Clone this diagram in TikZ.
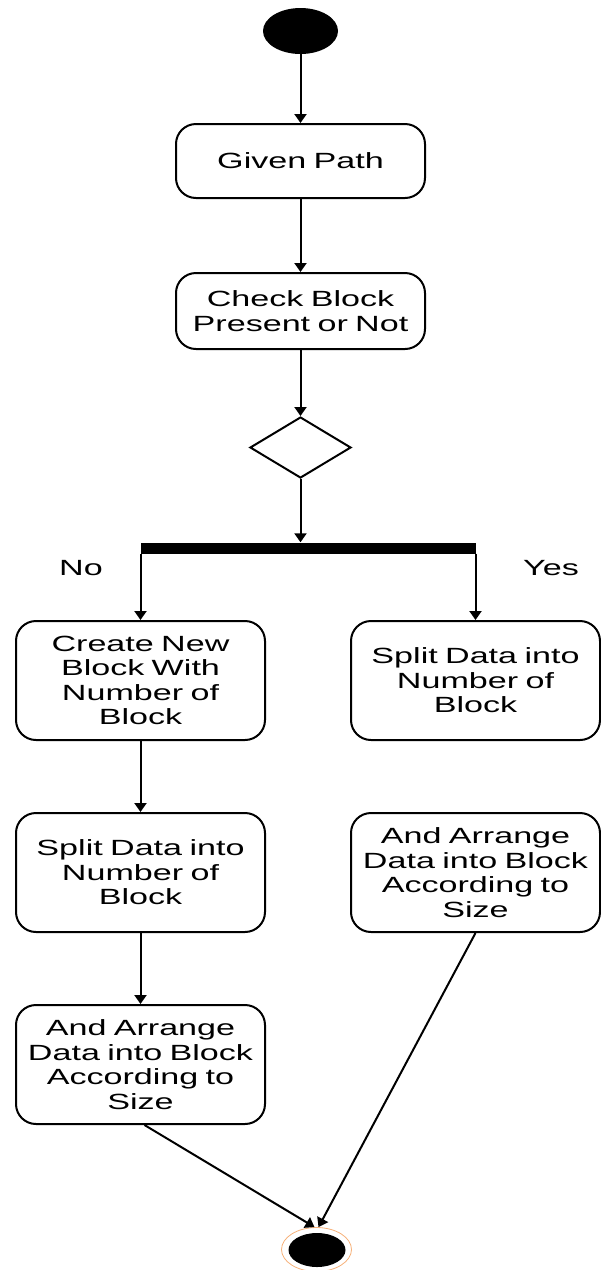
\documentclass[tikz,border=0pt]{standalone}
\usepackage{fontspec}
\setmainfont{Liberation Sans}[FakeStretch=1.55]
\usetikzlibrary{shapes.geometric,arrows.meta}
\definecolor{ringorange}{RGB}{246,176,120}
\begin{document}
\begin{tikzpicture}[x=1pt,y=-1pt,
  box/.style={draw,line width=2pt,rounded corners=20pt,minimum width=249pt,align=center,
    font=\fontsize{22}{24.5}\selectfont,inner sep=0pt,text width=245pt},
  arr/.style={line width=2pt,-{Triangle[width=12pt,length=9pt]}},
  lbl/.style={font=\fontsize{22}{24.5}\selectfont}]
\useasboundingbox (0,0) rectangle (601,1270);
\node[ellipse,fill=black,minimum width=75pt,minimum height=46pt,inner sep=0pt] (S) at (300.5,31) {};
\node[box,minimum height=74pt] (B1) at (300.5,161) {Given Path};
\node[box,minimum height=76pt] (B2) at (300.5,311) {Check Block\\Present or Not};
\node[diamond,draw,line width=2pt,minimum width=101pt,minimum height=61pt,inner sep=0pt,aspect=1.65] (D) at (300.5,447.5) {};
\node[rectangle,fill=black,minimum width=335pt,minimum height=11pt,inner sep=0pt] (bar) at (308.5,548) {};
\node[lbl] (no) at (81,568) {No};
\node[lbl] (yes) at (551,568) {Yes};
\node[box,minimum height=119pt] (L1) at (140.5,680.5) {Create New\\Block With\\Number of\\Block};
\node[box,minimum height=119pt] (R1) at (475.5,680.5) {Split Data into\\Number of\\Block};
\node[box,minimum height=119pt] (L2) at (140.5,872.5) {Split Data into\\Number of\\Block};
\node[box,minimum height=119pt] (R2) at (475.5,872.5) {And Arrange\\Data into Block\\According to\\Size};
\node[box,minimum height=119pt] (L3) at (140.5,1064.5) {And Arrange\\Data into Block\\According to\\Size};
\node[ellipse,draw=ringorange,line width=0.8pt,minimum width=70pt,minimum height=44pt,inner sep=0pt] (E) at (316.5,1249.5) {};
\node[ellipse,fill=black,minimum width=57pt,minimum height=34pt,inner sep=0pt] (Ei) at (317,1250) {};
\draw[arr] (S.south) -- (B1.north);
\draw[arr] (B1.south) -- (B2.north);
\draw[arr] (B2.south) -- (D.north);
\draw[arr] (D.south) -- (D.south |- bar.north);
\draw[arr] (bar.south -| L1.north) -- (L1.north);
\draw[arr] (bar.south -| R1.north) -- (R1.north);
\draw[arr] (L1.south) -- (L2.north);
\draw[arr] (L2.south) -- (L3.north);
\draw[arr] ([xshift=4pt]L3.south) -- ([xshift=-2pt]E.north);
\draw[arr] (R2.south) -- ([xshift=2pt]E.north);
\end{tikzpicture}
\end{document}
